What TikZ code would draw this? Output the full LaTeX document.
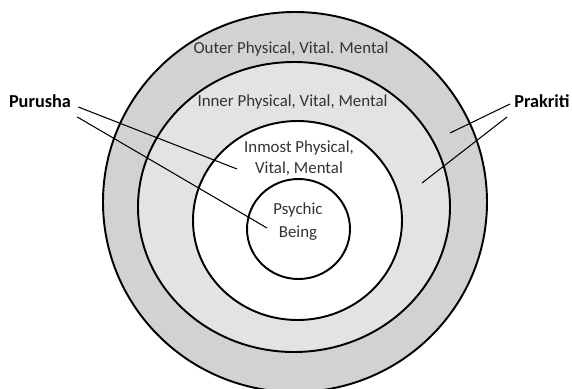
\documentclass[tikz,border=0pt]{standalone}
\usepackage{fontspec}
\setmainfont{Carlito}
\definecolor{outerring}{HTML}{D1D3D2}
\definecolor{innerring}{HTML}{E3E3E3}
\definecolor{layergray}{HTML}{333333}
\tikzset{
  ring/.style={draw=black, line width=1.1pt},
  layertext/.style={text=layergray, font=\fontsize{9.6}{12}\selectfont, align=center, inner sep=0pt},
  sidelabel/.style={text=black, font=\fontsize{10.4}{12}\selectfont\bfseries, inner sep=0pt},
  leader/.style={draw=black, line width=0.6pt},
}
\begin{document}
\begin{tikzpicture}[x=0.02cm, y=-0.02cm]
  \clip (0,0) rectangle (572,389);
  % Rings, from outside in
  \draw[ring, fill=outerring] (295,202) ellipse (192 and 190);
  \draw[ring, fill=innerring] (294,207) ellipse (156 and 145);
  \draw[ring, fill=white] (297.5,220.5) ellipse (104.5 and 99.5);
  \draw[ring, fill=white] (298.5,229) ellipse (51.5 and 50);
  % Texts of the rings
  \node[layertext] (outer) at (291,49) {Outer Physical, Vital. Mental};
  \node[layertext] (inner) at (292.5,102) {Inner Physical, Vital, Mental};
  \node[layertext] (inmost) at (299,158) {Inmost Physical,\\Vital, Mental};
  \node[layertext, font=\fontsize{9.6}{13}\selectfont] (psychic) at (298,221.5) {Psychic\\Being};
  % Side labels
  \node[sidelabel] (purusha) at (40,101) {Purusha};
  \node[sidelabel] (prakriti) at (542,101) {Prakriti};
  % Leader ends
  \coordinate (puA) at (237,169);
  \coordinate (puB) at (267,228);
  \coordinate (prA) at (450,133);
  \coordinate (prB) at (422,183);
  % Leaders
  \draw[leader] ([xshift=0.14cm, yshift=-0.12cm]purusha.east) -- (puA);
  \draw[leader] ([xshift=0.12cm, yshift=-0.32cm]purusha.east) -- (puB);
  \draw[leader] ([xshift=-0.08cm, yshift=-0.06cm]prakriti.west) -- (prA);
  \draw[leader] ([xshift=-0.14cm, yshift=-0.32cm]prakriti.west) -- (prB);
\end{tikzpicture}
\end{document}
